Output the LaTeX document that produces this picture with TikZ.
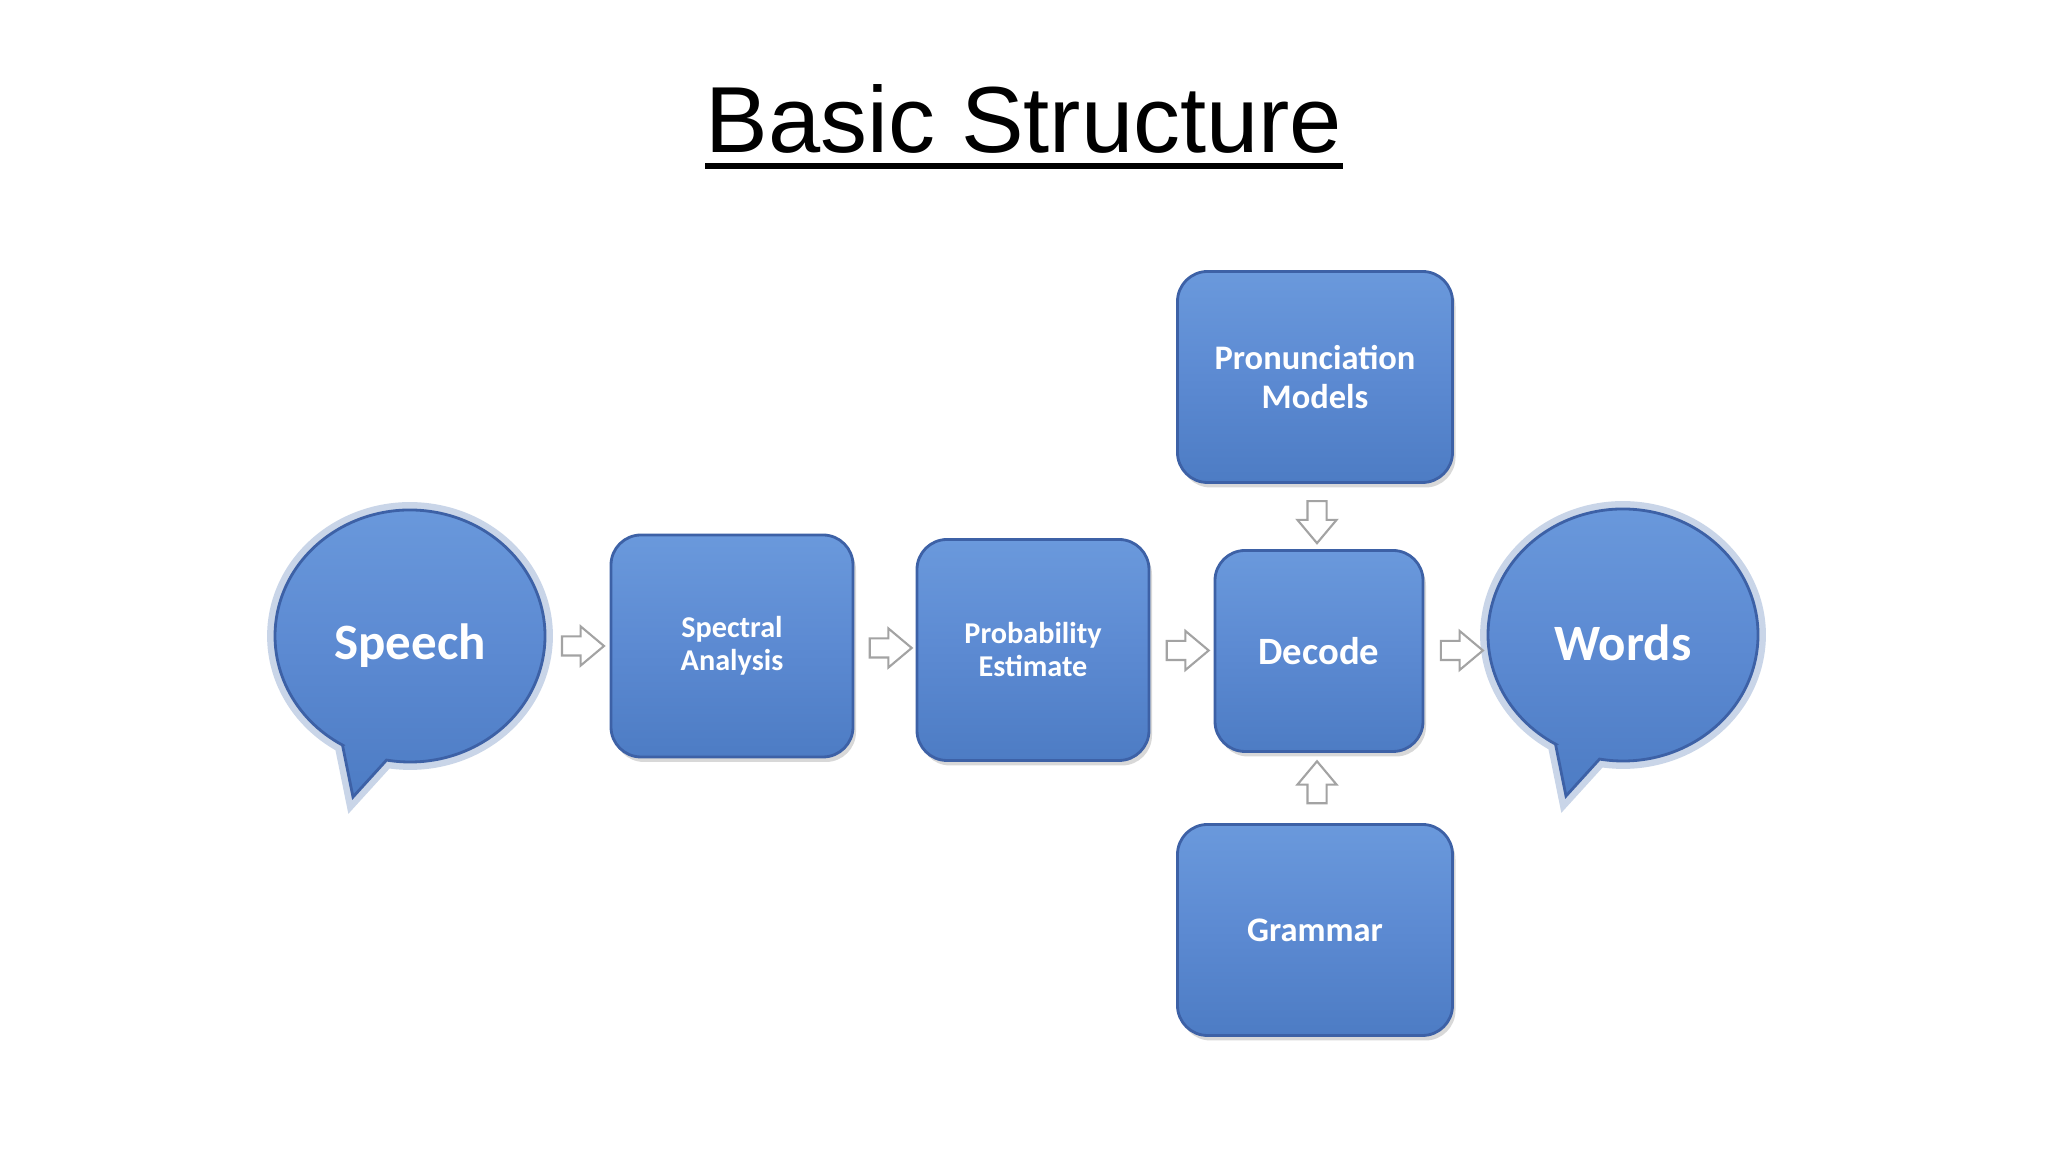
\documentclass[tikz,border=0pt]{standalone}
\usepackage{fontspec}
\setmainfont{Carlito}
\newfontfamily\headfont{Liberation Sans}
\usetikzlibrary{calc,positioning,shapes.arrows,shapes.geometric,shadows}
\definecolor{btop}{HTML}{6A99DC}
\definecolor{bmid}{HTML}{5C8AD2}
\definecolor{bbot}{HTML}{4D7CC4}
\definecolor{bedge}{HTML}{3D61A6}
\definecolor{bglow}{HTML}{C9D5E8}
\definecolor{agray}{HTML}{A3A3A3}
% speech bubble outline round a centre coordinate
\newcommand{\bubbleat}[1]{%
  \path[bubline] ($(#1)+(240:1.35 and 1.26)$) -- ($(#1)+(-0.57,-1.61)$)
    -- ($(#1)+(260:1.35 and 1.26)$)
    arc[start angle=260, end angle=600, x radius=1.35, y radius=1.26] -- cycle;}

\begin{document}
\begin{tikzpicture}[
    blk/.style={draw=bedge, line width=0.8pt, rounded corners=0.3cm, align=center,
                top color=btop, bottom color=bbot, middle color=bmid,
                text=white, inner sep=2pt,
                drop shadow={shadow xshift=0.03cm, shadow yshift=-0.05cm, opacity=0.3}},
    bub/.style={inner sep=0pt, text=white, font=\bfseries\fontsize{14.5}{17}\selectfont},
    bubline/.style={draw=bedge, line width=0.8pt, top color=btop, bottom color=bbot,
                middle color=bmid, preaction={draw=bglow, line width=4.5pt}},
    flow/.style={single arrow, draw=agray, fill=white, line width=0.6pt,
                inner xsep=0pt, inner ysep=0.085cm, minimum height=0.42cm,
                single arrow head extend=0.1cm, single arrow tip angle=80},
  ]
  \path[use as bounding box, fill=white] (0,0) rectangle (20.48,11.52);
  % title
  \node[font=\headfont\fontsize{26.7}{32}\selectfont, inner sep=0pt, anchor=base]
    (title) at (10.24,9.99) {Basic Structure};
  \draw[line width=1.7pt] ($(title.base west)+(0,-0.13)$) -- ($(title.base east)+(0,-0.13)$);
  % the two bubbles
  \coordinate (spc) at (4.10,5.16);
  \coordinate (wdc) at (16.23,5.17);
  \coordinate (spe) at ($(spc)+(1.35,0)$);
  \coordinate (wdw) at ($(wdc)+(-1.35,0)$);
  \bubbleat{spc}
  \bubbleat{wdc}
  \node[bub] (speech) at ($(spc)+(0,-0.1)$) {Speech};
  \node[bub] (words) at ($(wdc)+(0,-0.08)$) {Words};
  % processing blocks
  \node[blk, minimum width=2.42cm, minimum height=2.22cm,
        font=\bfseries\fontsize{8.6}{9.4}\selectfont] (spec) at (7.32,5.06)
    {Spectral\\Analysis};
  \node[blk, minimum width=2.32cm, minimum height=2.21cm,
        font=\bfseries\fontsize{8.6}{9.4}\selectfont] (prob) at (10.33,5.02)
    {Probability\\Estimate};
  \node[blk, minimum width=2.08cm, minimum height=2.01cm,
        font=\bfseries\fontsize{11}{13}\selectfont] (dec) at (13.19,5.01)
    {Decode};
  \node[blk, minimum width=2.75cm, minimum height=2.11cm,
        font=\bfseries\fontsize{9.8}{11.1}\selectfont] (pron) at (13.15,7.75)
    {Pronunciation\\Models};
  \node[blk, minimum width=2.75cm, minimum height=2.11cm,
        font=\bfseries\fontsize{9.8}{11.1}\selectfont] (gram) at (13.15,2.22)
    {Grammar};
  % block arrows between the stages
  \coordinate (m1) at ($(spe)!0.5!(spec.west)$);
  \coordinate (m4) at ($(dec.east)!0.5!(wdw)$);
  \node[flow] (a1) at (m1 |- spec) {};
  \node[flow] (a2) at ($(spec.east)!0.5!(prob.west)$) {};
  \node[flow] (a3) at ($(prob.east)!0.5!(dec.west)$) {};
  \node[flow] (a4) at (m4 |- a3) {};
  \node[flow, rotate=-90] (a5) at ($(pron.south)!0.5!(dec.north)$) {};
  \node[flow, rotate=90] (a6) at ($(gram.north)!0.5!(dec.south)$) {};
\end{tikzpicture}
\end{document}
